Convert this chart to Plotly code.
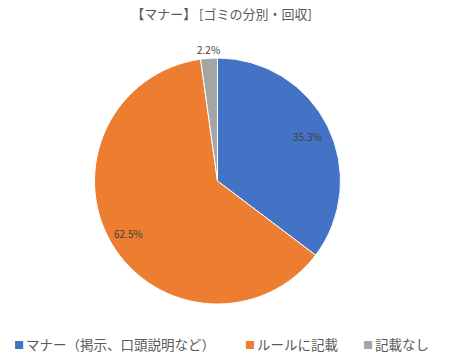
import math
import plotly.graph_objects as go

labels = ["マナー（掲示、口頭説明など）", "ルールに記載", "記載なし"]
values = [35.3, 62.5, 2.2]
colors = ["#4472C4", "#ED7D31", "#A5A5A5"]
label_radius = [0.82, 0.84, 1.07]   # relative radial placement of each % label

FONT = "Noto Sans CJK JP, Noto Sans, sans-serif"
W, H = 455, 360
ML, MR, MT, MB = 0, 20, 58, 56
PW, PH = W - ML - MR, H - MT - MB
R = min(PW, PH) / 2

fig = go.Figure(go.Pie(
    labels=labels,
    values=values,
    sort=False,
    direction="clockwise",
    rotation=0,
    marker=dict(colors=colors, line=dict(color="white", width=1)),
    textinfo="none",
    hoverinfo="label+percent",
    showlegend=False,
))

annotations = []
# percentage labels placed along each slice's mid angle
total = sum(values)
cum = 0.0
for v, rf in zip(values, label_radius):
    mid = (cum + v / 2) / total * 2 * math.pi
    cum += v
    x = 0.5 + rf * R * math.sin(mid) / PW
    y = 0.5 + rf * R * math.cos(mid) / PH
    annotations.append(dict(x=x, y=y, xref="paper", yref="paper",
                            text=f"{v:.1f}%", showarrow=False,
                            xanchor="center", yanchor="middle",
                            font=dict(size=10, color="#404040", family=FONT)))

# legend drawn as text entries
legend_x = [12, 243, 361]
legend_y = 344
for lx, lab, col in zip(legend_x, labels, colors):
    annotations.append(dict(x=(lx - ML) / PW, y=(MT + PH - legend_y) / PH,
                            xref="paper", yref="paper", text="■",
                            showarrow=False, xanchor="left", yanchor="middle",
                            font=dict(size=10, color=col, family=FONT)))
    annotations.append(dict(x=(lx + 12 - ML) / PW, y=(MT + PH - legend_y) / PH,
                            xref="paper", yref="paper", text=lab,
                            showarrow=False, xanchor="left", yanchor="middle",
                            font=dict(size=13.5, color="#595959", family=FONT)))

fig.update_layout(
    width=W, height=H,
    paper_bgcolor="white",
    plot_bgcolor="white",
    margin=dict(l=ML, r=MR, t=MT, b=MB, autoexpand=False),
    title=dict(text="【マナー】 [ゴミの分別・回収]", xref="paper",
               x=221.5 / PW, xanchor="center",
               y=1 - 14 / H, yanchor="middle",
               font=dict(size=13, color="#595959", family=FONT)),
    annotations=annotations,
    showlegend=False,
)

fig.write_html("out.html", config={"displayModeBar": False},
               post_script="document.body.style.margin='0';")
